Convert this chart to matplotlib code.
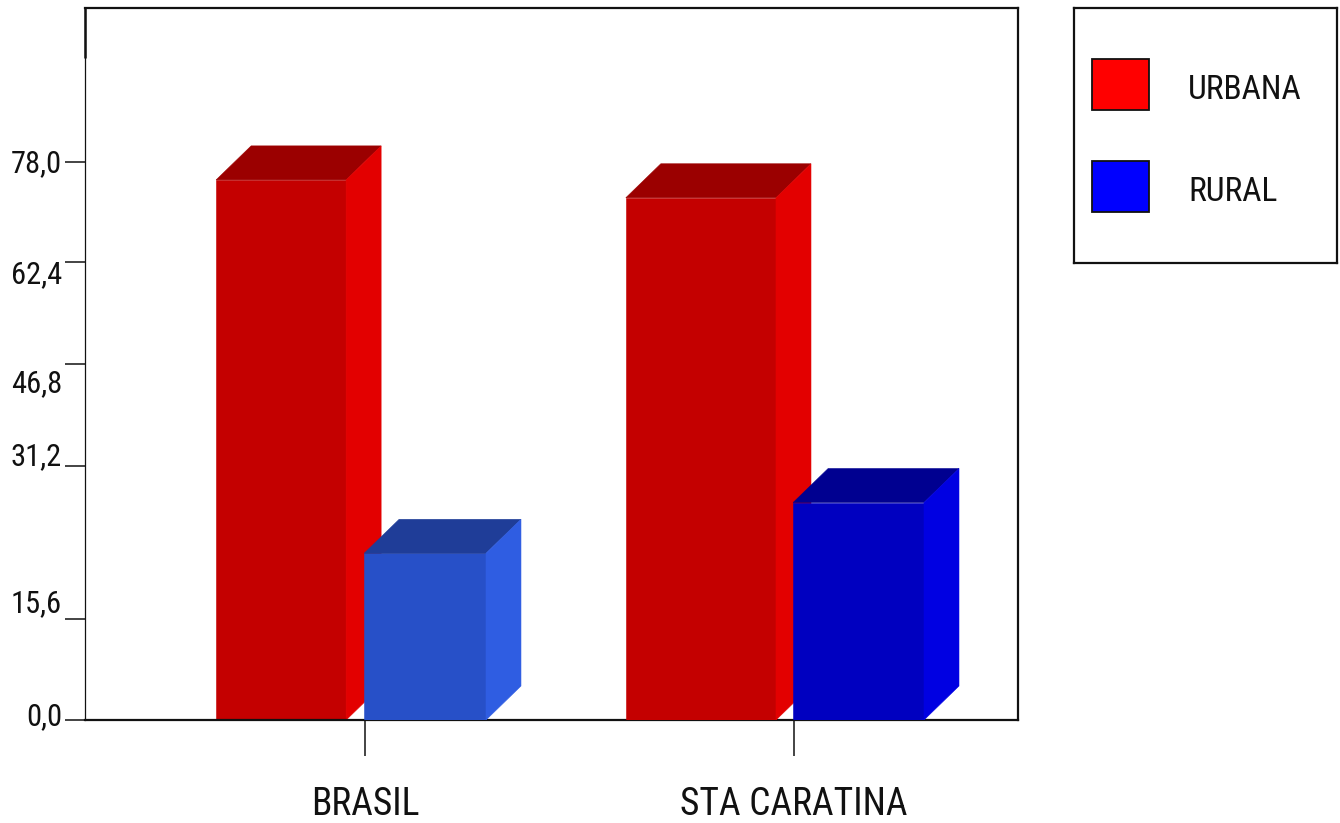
import matplotlib
matplotlib.use("Agg")
import matplotlib.pyplot as plt
from matplotlib import font_manager
from matplotlib.patches import Rectangle, Polygon
from matplotlib.transforms import blended_transform_factory

# ---- data -------------------------------------------------------------
categories = ["BRASIL", "STA CARATINA"]
urbana = [75.5, 73.0]
rural = [23.3, 30.4]
series_names = ["URBANA", "RURAL"]

ytick_labels = ["78,0", "62,4", "46,8", "31,2", "15,6", "0,0"]
ytick_values = [78.0, 64.0, 49.8, 35.5, 14.1, 0.0]      # where the tick marks sit
ylabel_baselines = [76.6, 61.1, 45.85, 35.65, 15.1, -0.7]  # where each label text sits

# ---- fonts ------------------------------------------------------------
available = {f.name for f in font_manager.fontManager.ttflist}
FONT = next((f for f in ("Roboto Condensed", "Archivo Narrow", "PT Sans Narrow",
                          "Liberation Sans") if f in available), "DejaVu Sans")
plt.rcParams["font.family"] = [FONT, "DejaVu Sans"]

# ---- styles -----------------------------------------------------------
W, H = 1340, 823
URB_OFFSET = [-0.347, -0.392]
URB_WIDTH = [0.303, 0.350]
RUR_OFFSET = [-0.002, -0.002]
RUR_WIDTH = [0.284, 0.305]
DX = 35 / 429          # depth in x units
DY = 34 * 78 / 558     # depth in y units

urb_colors = [("#C40000", "#9B0000", "#E30000")] * 2
rur_colors = [("#2750C8", "#1F3D98", "#2F5DE2"),
              ("#0000C0", "#000090", "#0000E2")]


def bar3d(ax, x0, w, h, cols, z):
    front, top, side = cols
    ax.add_patch(Rectangle((x0, 0), w, h, facecolor=front, edgecolor=front,
                           lw=0.4, zorder=z))
    ax.add_patch(Polygon([(x0, h), (x0 + w, h), (x0 + w + DX, h + DY),
                          (x0 + DX, h + DY)], closed=True,
                         facecolor=top, edgecolor=top, lw=0.4, zorder=z))
    ax.add_patch(Polygon([(x0 + w, 0), (x0 + w + DX, DY), (x0 + w + DX, h + DY),
                          (x0 + w, h)], closed=True,
                         facecolor=side, edgecolor=side, lw=0.4, zorder=z))


fig = plt.figure(figsize=(W / 100, H / 100), dpi=100)
ax = fig.add_axes([85 / W, (H - 720) / H, 933 / W, 712 / H])
ax.set_xlim(-280 / 429, 653 / 429)
ax.set_ylim(0, 712 * 78 / 558)

for i in range(len(categories)):
    bar3d(ax, i + URB_OFFSET[i], URB_WIDTH[i], urbana[i], urb_colors[i], 2 + 2 * i)
    bar3d(ax, i + RUR_OFFSET[i], RUR_WIDTH[i], rural[i], rur_colors[i], 3 + 2 * i)

# spines
for s in ("top", "right", "bottom"):
    ax.spines[s].set_linewidth(1.6)
    ax.spines[s].set_color("#111111")
ax.spines["left"].set_linewidth(0.9)
ax.spines["left"].set_color("#111111")
ax.plot([0, 0], [1, 1 - 50 / 712], transform=ax.transAxes, color="#111111",
        lw=1.8, clip_on=False, solid_capstyle="butt", zorder=10)

# ticks
ax.set_yticks(ytick_values)
ax.set_yticklabels([])
ax.set_xticks(range(len(categories)))
ax.set_xticklabels([])
ax.tick_params(axis="y", direction="out", length=14.4, width=1.1, color="#111111")
ax.tick_params(axis="x", direction="out", length=26, width=1.1, color="#111111")

ty = blended_transform_factory(ax.transAxes, ax.transData)
for lab, yb in zip(ytick_labels, ylabel_baselines):
    ax.text(-23 / 933, yb, lab, transform=ty, ha="right", va="baseline",
            fontsize=22, color="#111111", clip_on=False)

tx = blended_transform_factory(ax.transData, ax.transAxes)
for i, lab in enumerate(categories):
    ax.text(i, -(815 - 720) / 712, lab, transform=tx, ha="center",
            va="baseline", fontsize=27, color="#111111", clip_on=False)

# legend
lax = fig.add_axes([1074 / W, (H - 263) / H, 263 / W, 255 / H])
lax.set_xlim(0, 263)
lax.set_ylim(255, 0)
lax.set_xticks([])
lax.set_yticks([])
for s in lax.spines.values():
    s.set_linewidth(1.6)
    s.set_color("#111111")
leg_colors = ["#FF0000", "#0000FF"]
for k, (name, c) in enumerate(zip(series_names, leg_colors)):
    y0 = 51 + 102 * k
    lax.add_patch(Rectangle((18, y0), 57, 51, facecolor=c, edgecolor="#111111",
                            lw=1.3))
    lax.text(114, y0 + 40, name, ha="left", va="baseline", fontsize=24,
             color="#111111")

fig.savefig("out.png", dpi=100)
